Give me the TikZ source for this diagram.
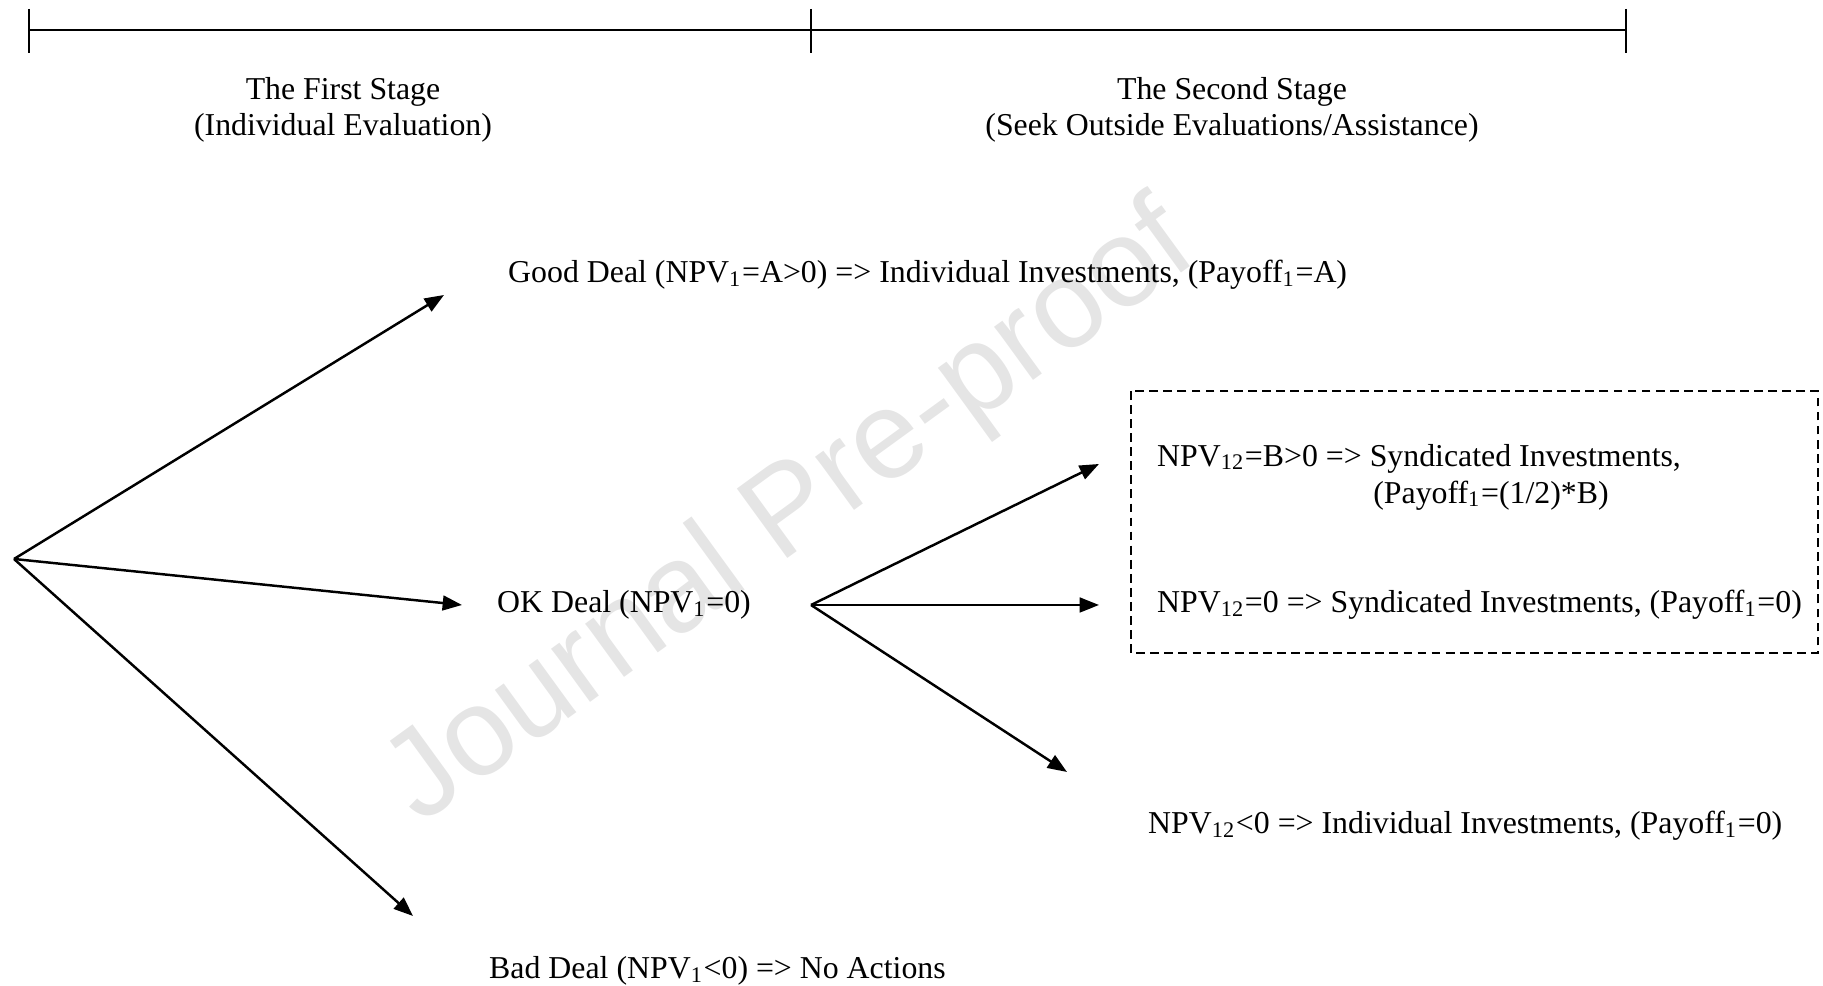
\documentclass[tikz,border=0pt]{standalone}
\usepackage{fontspec}
\setmainfont{Liberation Serif}
\newfontfamily\wmfont{Liberation Sans}
\usepackage{tikz}
\usetikzlibrary{positioning}
\usetikzlibrary{shapes,arrows,arrows.meta}

\begin{document}
\begin{tikzpicture}[x=0.01cm,y=-0.01cm,>={Triangle[length=5.5pt,width=4.2pt]},line width=0.7pt]
\tikzset{DealStyle/.style = {inner sep=0pt,anchor=west,
                             font=\fontsize{9.05}{10.5}\selectfont},
         StageStyle/.style = {inner sep=0pt,align=center,
                              font=\fontsize{9.05}{10.3}\selectfont},
         TickStyle/.style = {line width=0.4pt}}
\useasboundingbox (0,0) rectangle (1823,986);

% watermark
\node[rotate=36,text=black!10,font=\wmfont\fontsize{35.5}{35.5}\selectfont] (mark) at (792,516) {Journal Pre-proof};

% time line
\draw[line width=0.7pt] (29,30) coordinate (t0) -- (811,30) coordinate (t1) -- (1626,30) coordinate (t2);
\foreach \t in {t0,t1,t2}
  \draw[TickStyle] (\t) ++(0,-21) -- ++(0,44);
\node[StageStyle] (first) at (343,110) {The First Stage\\(Individual Evaluation)};
\node[StageStyle] (second) at (1232,110) {The Second Stage\\(Seek Outside Evaluations/Assistance)};

% first stage
\coordinate (root) at (14,559);
\coordinate (goodend) at (444,295);
\coordinate (okend) at (462,605);
\coordinate (badend) at (413,916);
\node[DealStyle] (good) at (507,275) {Good Deal (NPV\textsubscript{1}=A>0) => Individual Investments, (Payoff\textsubscript{1}=A)};
\node[DealStyle] (ok) at (496,605) {OK Deal (NPV\textsubscript{1}=0)};
\node[DealStyle] (bad) at (488,971) {Bad Deal (NPV\textsubscript{1}<0) => No Actions};
\draw[->] (root) -- (goodend);
\draw[->] (root) -- (okend);
\draw[->] (root) -- (badend);

% second stage
\coordinate (split) at (811,605);
\coordinate (synBend) at (1099,464);
\coordinate (syn0end) at (1099,605);
\coordinate (negend) at (1067,772);
\node[DealStyle,align=left] (synB) at (1156,477) {NPV\textsubscript{12}=B>0 => Syndicated Investments,\\\hspace*{2.16cm}(Payoff\textsubscript{1}=(1/2)*B)};
\node[DealStyle] (syn0) at (1156,605) {NPV\textsubscript{12}=0 => Syndicated Investments, (Payoff\textsubscript{1}=0)};
\node[DealStyle] (neg) at (1147,826) {NPV\textsubscript{12}<0 => Individual Investments, (Payoff\textsubscript{1}=0)};
\draw[->] (split) -- (synBend);
\draw[->] (split) -- (syn0end);
\draw[->] (split) -- (negend);
\draw[line width=0.4pt,dash pattern=on 2.5pt off 1.5pt] (1131,391) coordinate (boxnw) rectangle (1818,653) coordinate (boxse);
\end{tikzpicture}
\end{document}
